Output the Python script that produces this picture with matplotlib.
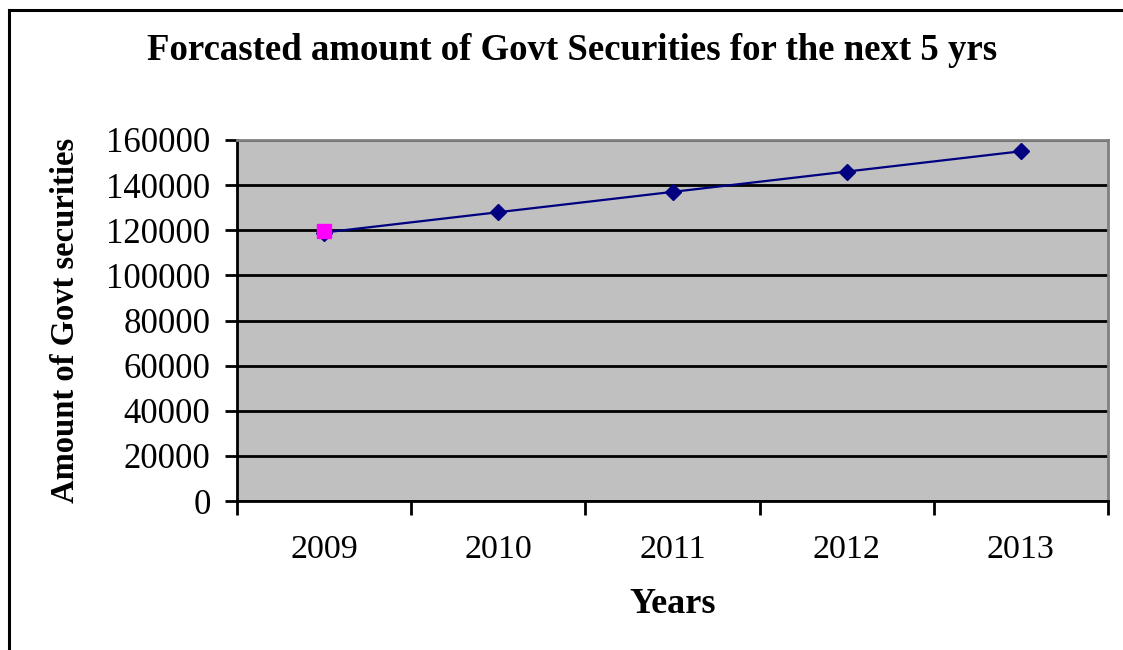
import matplotlib
matplotlib.use("Agg")
import matplotlib.pyplot as plt
from matplotlib.lines import Line2D

years = ["2009", "2010", "2011", "2012", "2013"]
forecast = [119000, 128000, 137000, 146000, 155000]
actual_years = ["2009"]
actual = [119500]
yticks = [0, 20000, 40000, 60000, 80000, 100000, 120000, 140000, 160000]

plt.rcParams['font.family'] = ['Liberation Serif', 'DejaVu Serif']

fig = plt.figure(figsize=(11.23, 6.5), dpi=100)
ax = fig.add_axes([237/1123, 1-501/650, (1108-237)/1123, (501-140)/650])
ax.set_facecolor('#C0C0C0')

xpos = list(range(len(years)))
ax.plot(xpos, forecast, color='#000080', lw=1.6, marker='D', ms=8.5,
        markerfacecolor='#000080', markeredgecolor='#000080', zorder=3, clip_on=False)
apos = [years.index(y) for y in actual_years]
ax.plot(apos, actual, color='#FF00FF', lw=0, marker='s', ms=10.5,
        markerfacecolor='#FF00FF', markeredgecolor='#FF00FF', zorder=4, clip_on=False)

ax.set_ylim(0, 160000)
ax.set_yticks(yticks)
ax.set_yticklabels([str(v) for v in yticks], fontsize=25)
ax.yaxis.grid(True, color='black', lw=2)
ax.set_axisbelow(True)

ax.set_xlim(-0.5, len(years) - 0.5)
ax.set_xticks([i - 0.5 for i in range(len(years) + 1)])
ax.set_xticklabels([])
ax.set_xticks(xpos, minor=True)
ax.set_xticklabels(years, minor=True, fontsize=24.5)
ax.tick_params(axis='x', which='major', length=10, width=2, direction='out')
ax.tick_params(axis='x', which='minor', length=0, pad=24)
ax.tick_params(axis='y', length=9, width=2, direction='out', pad=10)

for s in ['left', 'bottom']:
    ax.spines[s].set_color('black')
    ax.spines[s].set_linewidth(2)
for s in ['top', 'right']:
    ax.spines[s].set_color('#808080')
    ax.spines[s].set_linewidth(2)

ax.set_ylabel('Amount of Govt securities', fontsize=23.5, fontweight='bold', labelpad=18)
ax.set_xlabel('Years', fontsize=26, fontweight='bold', labelpad=17)

fig.text(572/1123, 1-51/650, 'Forcasted amount of Govt Securities for the next 5 yrs',
         ha='center', va='center', fontsize=26.5, fontweight='bold')

fig.add_artist(Line2D([9/1123, 9/1123], [0, 1-9.5/650], color='black', lw=2.2,
                      transform=fig.transFigure))
fig.add_artist(Line2D([9/1123, 1], [1-9.5/650, 1-9.5/650], color='black', lw=2.2,
                      transform=fig.transFigure))

fig.savefig('out.png', dpi=100)
